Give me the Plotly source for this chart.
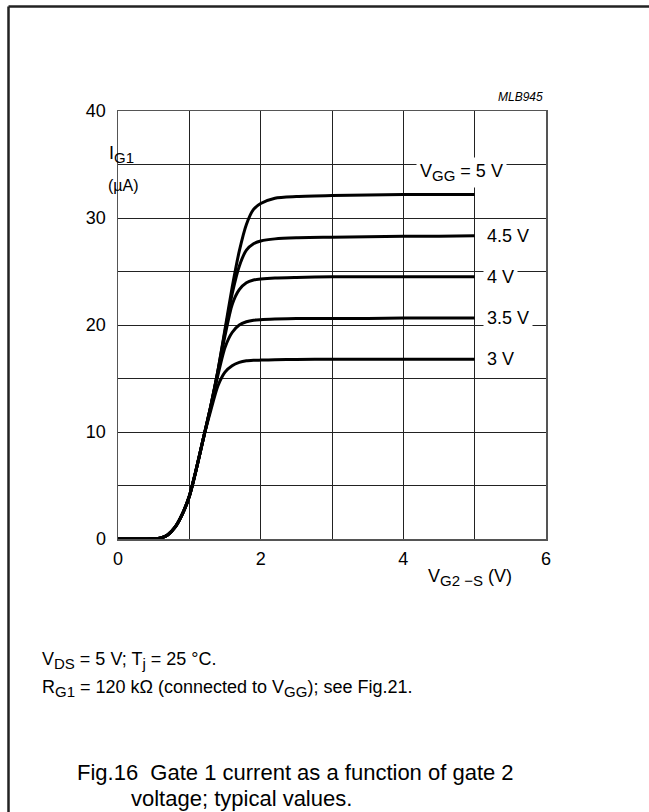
import plotly.graph_objects as go

# ---- data ----
v_g2s = [0, 0.2, 0.4, 0.5, 0.6, 0.7, 0.8, 0.9, 1.0, 1.1, 1.2, 1.3, 1.4, 1.5, 1.6,
         1.7, 1.8, 1.9, 2.0, 2.2, 2.5, 3.0, 3.5, 4.0, 4.5, 5.0]
i_g1_5v = [0, 0, 0, 0.02, 0.1, 0.4, 1.1, 2.3, 4.0, 6.6, 9.5, 12.4, 15.7, 19.6, 23.5,
           26.9, 29.4, 30.8, 31.35, 31.85, 32.0, 32.1, 32.15, 32.2, 32.2, 32.2]
i_g1_45v = [0, 0, 0, 0.02, 0.1, 0.4, 1.1, 2.3, 4.0, 6.6, 9.5, 12.4, 15.7, 19.4, 22.9,
            25.5, 27.0, 27.6, 27.85, 28.05, 28.15, 28.2, 28.25, 28.3, 28.3, 28.35]
i_g1_4v = [0, 0, 0, 0.02, 0.1, 0.4, 1.1, 2.3, 4.0, 6.6, 9.5, 12.4, 15.6, 19.0, 21.9,
           23.3, 23.95, 24.2, 24.3, 24.4, 24.45, 24.5, 24.5, 24.5, 24.5, 24.5]
i_g1_35v = [0, 0, 0, 0.02, 0.1, 0.4, 1.1, 2.3, 4.0, 6.6, 9.5, 12.3, 15.3, 17.9, 19.3,
            20.0, 20.3, 20.45, 20.5, 20.55, 20.6, 20.6, 20.6, 20.65, 20.65, 20.65]
i_g1_3v = [0, 0, 0, 0.02, 0.1, 0.4, 1.1, 2.3, 4.0, 6.6, 9.5, 12.0, 14.3, 15.6, 16.2,
           16.5, 16.65, 16.7, 16.72, 16.75, 16.78, 16.8, 16.8, 16.8, 16.8, 16.8]

curve_values = [i_g1_5v, i_g1_45v, i_g1_4v, i_g1_35v, i_g1_3v]
SUB = '<sub><span style="font-size:15px">{}</span></sub>'
curve_labels = ["V" + SUB.format("GG") + " = 5 V", "4.5 V", "4 V", "3.5 V", "3 V"]

x_tick_vals = [0, 2, 4, 6]
x_tick_text = ["0", "2", "4", "6"]
y_tick_vals = [0, 10, 20, 30, 40]
y_tick_text = ["0", "10", "20", "30", "40"]

FONT = "Liberation Sans, Arial, Helvetica, sans-serif"

fig = go.Figure()
for vals in curve_values:
    fig.add_trace(go.Scatter(
        x=v_g2s, y=vals, mode="lines",
        line=dict(color="black", width=3, shape="spline", smoothing=0.7),
        hoverinfo="skip", showlegend=False))

# layout geometry (pixels)
W, H = 649, 812
L, R, T, B = 118, 103, 111, 273
PW = W - L - R
PH = H - T - B


def px(xp):
    return (xp - L) / PW


def py(yp):
    return (H - B - yp) / PH


annotations = []
label_pos = [(4.18, 34.25), (5.12, None), (5.12, None), (5.12, None), (5.12, None)]
for k, (lab, vals) in enumerate(zip(curve_labels, curve_values)):
    lx, ly = label_pos[k]
    annotations.append(dict(
        x=lx, y=ly if ly is not None else vals[-1], xref="x", yref="y",
        text=lab, showarrow=False, xanchor="left", yanchor="middle",
        font=dict(size=18, color="black", family=FONT),
        bgcolor="white", borderpad=3))

annotations += [
    dict(x=px(545), y=py(97), xref="paper", yref="paper", text="<i>MLB945</i>",
         showarrow=False, xanchor="right", yanchor="middle",
         font=dict(size=12, color="black", family=FONT)),
    dict(x=px(107), y=py(154), xref="paper", yref="paper",
         text="I" + SUB.format("G1"),
         showarrow=False, xanchor="left", yanchor="middle",
         font=dict(size=18, color="black", family=FONT)),
    dict(x=px(106), y=py(185), xref="paper", yref="paper", text="(µA)",
         showarrow=False, xanchor="left", yanchor="middle",
         font=dict(size=16, color="black", family=FONT)),
    dict(x=px(426), y=py(577), xref="paper", yref="paper",
         text="V" + SUB.format("G2 \u2212S") + " (V)",
         showarrow=False, xanchor="left", yanchor="middle",
         font=dict(size=18, color="black", family=FONT)),
    dict(x=px(40), y=py(660), xref="paper", yref="paper",
         text="V" + SUB.format("DS") + " = 5 V; T" + SUB.format("j") + " = 25 °C.",
         showarrow=False, xanchor="left", yanchor="middle",
         font=dict(size=18, color="black", family=FONT)),
    dict(x=px(40), y=py(688), xref="paper", yref="paper",
         text="R" + SUB.format("G1") + " = 120 kΩ (connected to V" + SUB.format("GG")
              + "); see Fig.21.",
         showarrow=False, xanchor="left", yanchor="middle",
         font=dict(size=18, color="black", family=FONT)),
    dict(x=px(75), y=py(772), xref="paper", yref="paper",
         text="Fig.16  Gate 1 current as a function of gate 2",
         showarrow=False, xanchor="left", yanchor="middle",
         font=dict(size=22, color="black", family=FONT)),
    dict(x=px(129), y=py(798), xref="paper", yref="paper",
         text="voltage; typical values.",
         showarrow=False, xanchor="left", yanchor="middle",
         font=dict(size=22, color="black", family=FONT)),
]

shapes = [
    dict(type="line", xref="paper", yref="paper", x0=px(8.5), x1=px(W + 2),
         y0=py(6.5), y1=py(6.5), line=dict(color="#222", width=2.5)),
    dict(type="line", xref="paper", yref="paper", x0=px(8.5), x1=px(8.5),
         y0=py(6.5), y1=py(H + 2), line=dict(color="#222", width=2.5)),
]

axis_common = dict(
    showgrid=True, gridcolor="#222", gridwidth=1,
    showline=True, linecolor="#555", linewidth=1.5, mirror=True,
    zeroline=False, ticks="", tickfont=dict(size=18, color="black", family=FONT),
    fixedrange=True,
)

fig.update_layout(
    width=W, height=H,
    margin=dict(l=L, r=R, t=T, b=B, pad=0),
    paper_bgcolor="white", plot_bgcolor="white",
    showlegend=False,
    font=dict(family=FONT, color="black"),
    xaxis=dict(range=[0, 6], tickmode="array", tickvals=x_tick_vals,
               ticktext=x_tick_text, ticklabelstandoff=3,
               minor=dict(dtick=1, showgrid=True, gridcolor="#222", gridwidth=1),
               **axis_common),
    yaxis=dict(range=[0, 40], tickmode="array", tickvals=y_tick_vals,
               ticktext=y_tick_text, ticklabelstandoff=7,
               minor=dict(dtick=5, showgrid=True, gridcolor="#222", gridwidth=1),
               **axis_common),
    annotations=annotations,
    shapes=shapes,
)

fig.write_html(
    "out.html",
    config={"displayModeBar": False, "staticPlot": True},
    post_script="document.body.style.margin='0px';"
                "document.body.style.overflow='hidden';",
)
